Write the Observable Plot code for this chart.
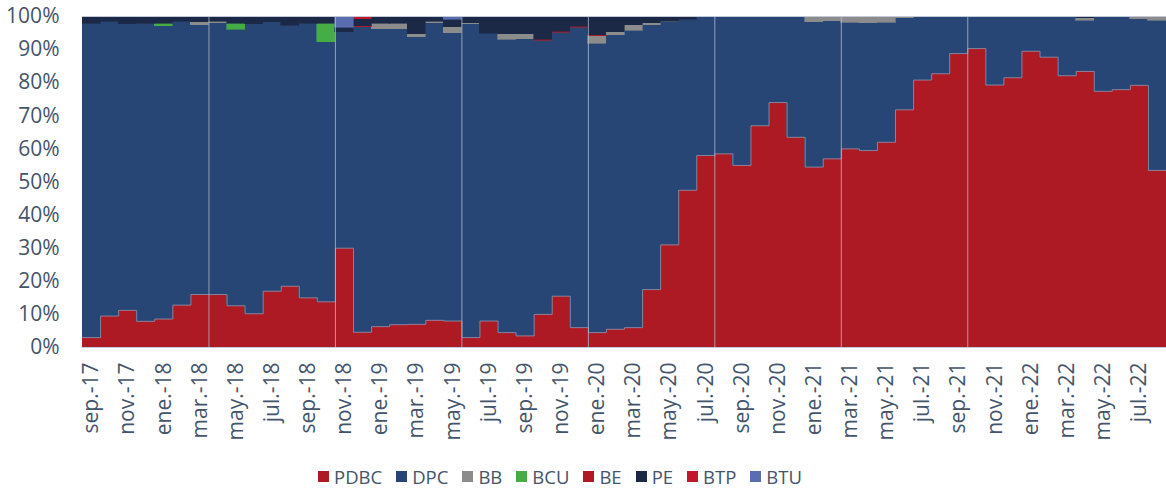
<!DOCTYPE html>
<html><head><meta charset="utf-8">
<script src="https://cdn.jsdelivr.net/npm/d3@7"></script>
<script src="https://cdn.jsdelivr.net/npm/@observablehq/plot@0.6"></script>
<style>
body{margin:0;background:#fff;font-family:"Open Sans",sans-serif;}
#chart svg{display:block;}
#legend{display:flex;justify-content:center;align-items:center;height:23px;font-size:18.5px;color:#44546a;padding-right:46px;}
#legend .item{display:flex;align-items:center;margin:0 7px;}
#legend .sw{width:11px;height:11px;margin-right:5px;display:inline-block;}
</style></head><body>
<div id="chart"></div><div id="legend"></div>
<script>
const months = ["sep.-17","oct.-17","nov.-17","dic.-17","ene.-18","feb.-18","mar.-18","abr.-18","may.-18","jun.-18","jul.-18","ago.-18",
"sep.-18","oct.-18","nov.-18","dic.-18","ene.-19","feb.-19","mar.-19","abr.-19","may.-19","jun.-19","jul.-19","ago.-19",
"sep.-19","oct.-19","nov.-19","dic.-19","ene.-20","feb.-20","mar.-20","abr.-20","may.-20","jun.-20","jul.-20","ago.-20",
"sep.-20","oct.-20","nov.-20","dic.-20","ene.-21","feb.-21","mar.-21","abr.-21","may.-21","jun.-21","jul.-21","ago.-21",
"sep.-21","oct.-21","nov.-21","dic.-21","ene.-22","feb.-22","mar.-22","abr.-22","may.-22","jun.-22","jul.-22","ago.-22"];

const seriesNames = ["PDBC","DPC","BB","BCU","BE","PE","BTP","BTU"];
const seriesColors = ["#ad1a24","#284675","#8c8c8c","#46ac45","#b01a25","#1b2947","#c3172b","#5a6db0"];

const PDBC = [3,9.5,11.2,7.9,8.6,12.8,16,16,12.6,10.2,17,18.5,15,13.8,30,4.6,6.3,6.9,7,8.2,8,3,8,4.5,3.5,10,15.5,6,4.5,5.5,6,17.5,31,47.5,58,58.5,55,67,74,63.5,54.5,57,60,59.5,62,71.8,80.8,82.7,88.8,90.3,79.3,81.5,89.5,87.7,82.1,83.4,77.4,77.9,79.2,53.5];
const DPC = [94.8,88.9,86.4,89.9,88.5,85.6,81.4,81.9,83.4,87.4,81.2,78.7,82.8,78.4,65.2,92.2,89.9,89.3,86.8,89.8,87,94.6,86.8,88.5,89.7,82.6,79.6,90.6,87.2,88.8,89.7,79.8,67.2,51.5,42,41.5,45,33,26,36.5,43.8,41.6,38.1,38.4,36.1,27.7,19,17.3,11.2,9.7,20.7,18.5,10.5,12.1,17.7,15.3,22.3,21.9,20,45.2];
const BB = [0,0,0,0,0,0,0.8,0.5,0,0,0,0,0,0,0,0,1.6,1.6,0.8,0.4,1.8,0.4,0,1.6,1.4,0,0,0,2.4,0.9,1.6,0.7,0.2,0,0,0,0,0,0,0,1.7,1.4,1.7,1.9,1.9,0.5,0.2,0,0,0,0,0,0,0.2,0.2,0.8,0,0.2,0.8,1.3];
const BCU = [0,0,0,0,0.7,0,0,0,1.8,0,0,0,0,5.6,0,0,0,0,0,0,0,0,0,0,0,0,0,0,0,0,0,0,0,0,0,0,0,0,0,0,0,0,0,0,0,0,0,0,0,0,0,0,0,0,0,0,0,0,0,0];
const BE = [0,0,0,0,0,0,0,0,0,0,0,0,0,0,0,0.2,0,0,0,0,0,0,0,0,0,0.4,0.3,0.3,0.3,0,0,0,0,0,0,0,0,0,0,0,0,0,0,0,0,0,0,0,0,0,0,0,0,0,0,0,0,0,0,0];
const PE = [2.2,1.6,2.4,2.2,2.2,1.6,1.8,1.6,2.2,2.4,1.8,2.8,2.2,2.2,1.4,2.1,2.2,2.2,5.4,1.6,2.2,2,5.2,5.4,5.4,7,4.6,3.1,5.6,4.8,2.7,2,1.6,1,0,0,0,0,0,0,0,0,0,0,0,0,0,0,0,0,0,0,0,0,0,0.5,0.3,0,0,0];
const BTP = [0,0,0,0,0,0,0,0,0,0,0,0,0,0,0,0.9,0,0,0,0,0,0,0,0,0,0,0,0,0,0,0,0,0,0,0,0,0,0,0,0,0,0,0.2,0.2,0,0,0,0,0,0,0,0,0,0,0,0,0,0,0,0];
const BTU = [0,0,0,0,0,0,0,0,0,0,0,0,0,0,3.4,0,0,0,0,0,1,0,0,0,0,0,0,0,0,0,0,0,0,0,0,0,0,0,0,0,0,0,0,0,0,0,0,0,0,0,0,0,0,0,0,0,0,0,0,0];
const seamMonths = [7,14,21,28,35,42,49];

const seriesValues = {PDBC, DPC, BB, BCU, BE, PE, BTP, BTU};
const data = [];
seriesNames.forEach(s => seriesValues[s].forEach((v, i) => data.push({i, series: s, value: v})));

const pdbcEdge = PDBC.map((v, i) => ({i, v: v / 100})).concat([{i: 60, v: PDBC[59] / 100}]);
const tickVals = d3.range(0, 60, 2).map(i => i + 0.5);

const chart = Plot.plot({
  width: 1166,
  height: 465,
  marginTop: 16,
  marginBottom: 118,
  marginLeft: 82,
  marginRight: 0,
  style: {fontFamily: "'Open Sans', sans-serif", color: "#44546a", background: "#fff"},
  x: {domain: [0, 60], axis: null},
  y: {domain: [0, 1], axis: null},
  color: {domain: seriesNames, range: seriesColors},
  marks: [
    Plot.rectY(data, {x: "i", interval: 1, y: "value", fill: "series", order: seriesNames, offset: "normalize", inset: 0, stroke: "series", strokeWidth: 0.6, shapeRendering: "crispEdges"}),
    Plot.lineY(pdbcEdge, {x: "i", y: "v", curve: "step-after", stroke: "#8b98b3", strokeWidth: 1, strokeOpacity: 0.8}),
    Plot.ruleX(seamMonths, {stroke: "#b7c0d2", strokeWidth: 1, strokeOpacity: 0.75}),
    Plot.ruleY([0, 1], {stroke: "#c3c9d6", strokeWidth: 1}),
    Plot.axisY({ticks: d3.range(0, 1.001, 0.1), tickFormat: d3.format(".0%"), tickSize: 0, tickPadding: 23, fontSize: 21, fill: "#44546a", label: null}),
    Plot.axisX({ticks: tickVals, tickFormat: d => months[Math.floor(d)], tickRotate: -90, tickSize: 0, tickPadding: 15, fontSize: 21, fill: "#44546a", label: null})
  ]
});
document.getElementById("chart").appendChild(chart);

const legend = document.getElementById("legend");
seriesNames.forEach((s, k) => {
  const it = document.createElement("span");
  it.className = "item";
  const sw = document.createElement("span");
  sw.className = "sw";
  sw.style.background = seriesColors[k];
  it.appendChild(sw);
  it.appendChild(document.createTextNode(s));
  legend.appendChild(it);
});
</script>
</body></html>
